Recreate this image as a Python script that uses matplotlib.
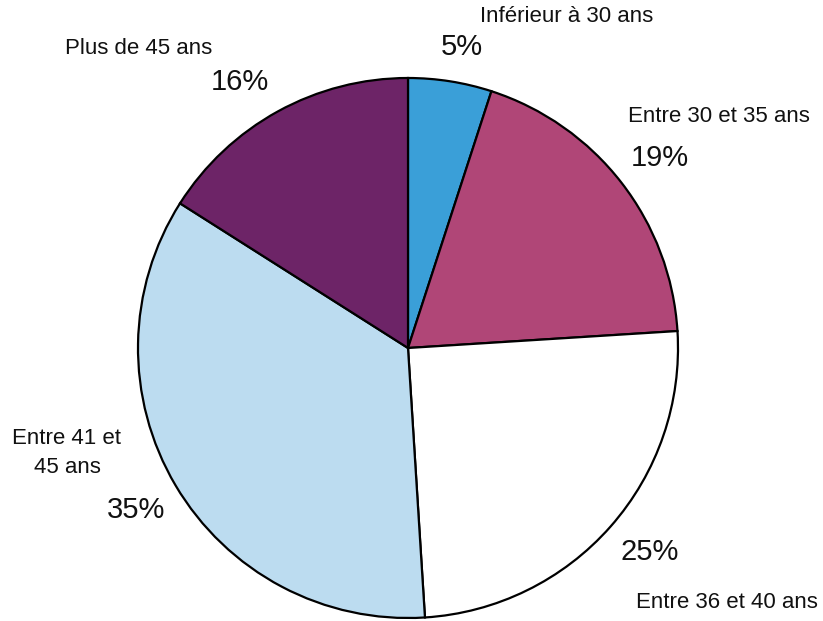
import matplotlib
matplotlib.use("Agg")
import matplotlib.pyplot as plt

categories = ["Inférieur à 30 ans", "Entre 30 et 35 ans", "Entre 36 et 40 ans",
              "Entre 41 et\n45 ans", "Plus de 45 ans"]
values = [5, 19, 25, 35, 16]
pct_labels = ["5%", "19%", "25%", "35%", "16%"]
colors = ["#3a9fd8", "#b04677", "#ffffff", "#bcdcf0", "#6d2467"]

W, H = 823, 621
fig = plt.figure(figsize=(W / 100, H / 100), dpi=100)
ax = fig.add_axes([0, 0, 1, 1])

ax.pie(values, colors=colors, startangle=90, counterclock=False,
       center=(408, H - 348), radius=270, frame=True,
       wedgeprops=dict(edgecolor="black", linewidth=1.6))
ax.set_xlim(0, W)
ax.set_ylim(0, H)
ax.set_aspect("equal")
ax.axis("off")

font = "Liberation Sans"
# (x, y) in pixel coords from top-left; label then percent
label_pos = [(567, 17), (719, 117), (727, 602), (67, 453), (139, 48)]
pct_pos = [(462, 47), (660, 158), (650, 552), (136, 510), (240, 82)]

for lab, (x, y) in zip(categories, label_pos):
    ax.text(x, H - y, lab, ha="center", va="center", fontsize=16,
            family=font, color="#111111", linespacing=1.55)
for p, (x, y) in zip(pct_labels, pct_pos):
    ax.text(x, H - y, p, ha="center", va="center", fontsize=21,
            family=font, color="#111111")

fig.savefig("out.png", dpi=100)
